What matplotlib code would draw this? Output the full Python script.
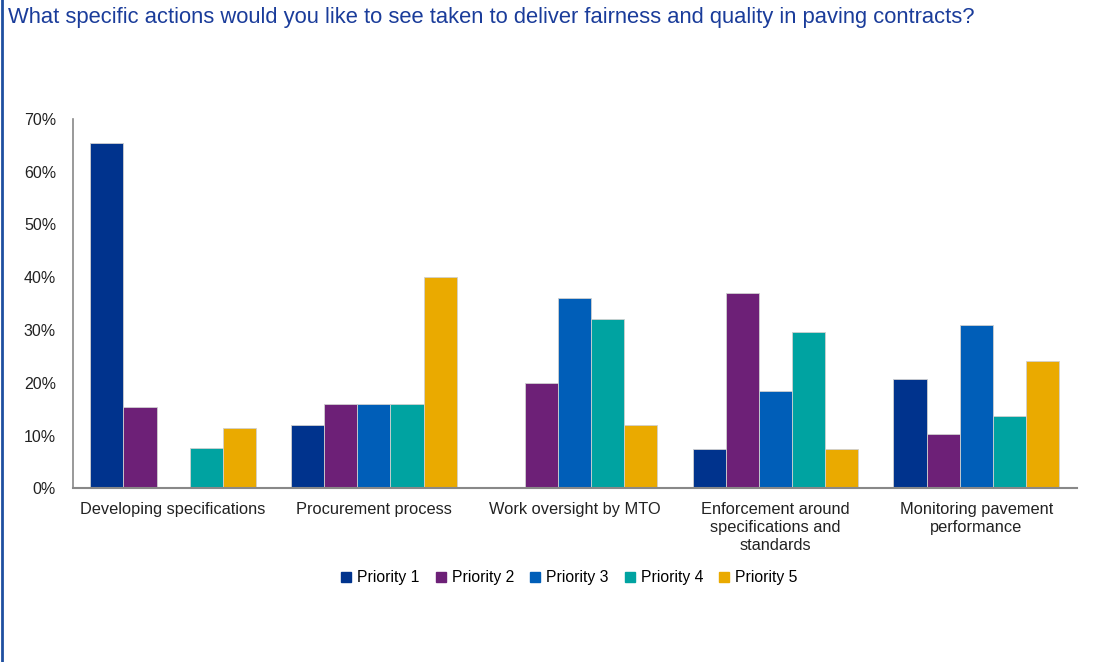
import matplotlib
matplotlib.use("Agg")
import matplotlib.pyplot as plt
import numpy as np
from matplotlib.lines import Line2D

categories = ["Developing specifications", "Procurement process", "Work oversight by MTO",
              "Enforcement around\nspecifications and\nstandards", "Monitoring pavement\nperformance"]
series_names = ["Priority 1", "Priority 2", "Priority 3", "Priority 4", "Priority 5"]
priority1 = [65.4, 12.0, 0.0, 7.4, 20.7]
priority2 = [15.4, 16.0, 20.0, 37.0, 10.3]
priority3 = [0.0, 16.0, 36.0, 18.5, 31.0]
priority4 = [7.7, 16.0, 32.0, 29.6, 13.8]
priority5 = [11.5, 40.0, 12.0, 7.4, 24.1]
yticks = [0, 10, 20, 30, 40, 50, 60, 70]
ytick_labels = ["0%", "10%", "20%", "30%", "40%", "50%", "60%", "70%"]
colors = ["#00338D", "#6D2077", "#005EB8", "#00A3A1", "#EAAA00"]

plt.rcParams['font.family'] = ['Liberation Sans', 'DejaVu Sans']

fig = plt.figure(figsize=(11.08, 6.62), dpi=100)
ax = fig.add_axes([0.0656, 0.2621, 0.9061, 0.5586])

x = np.arange(len(categories))
w = 0.165
data = [priority1, priority2, priority3, priority4, priority5]
for i, (vals, name, c) in enumerate(zip(data, series_names, colors)):
    ax.bar(x + (i - 2) * w, vals, width=w, color=c, label=name,
           edgecolor="#D0D0D0", linewidth=0.6, zorder=2)

ax.set_xlim(-0.5, len(categories) - 0.5)
ax.set_ylim(0, 70)
ax.set_yticks(yticks)
ax.set_yticklabels(ytick_labels, fontsize=11.5, color="#222222")
ax.set_xticks(x)
ax.set_xticklabels(categories, fontsize=11.8, color="#222222", linespacing=1.22, va="top")
ax.tick_params(axis="both", length=0)
ax.tick_params(axis="x", pad=10)
ax.tick_params(axis="y", pad=12)
for s in ["top", "right"]:
    ax.spines[s].set_visible(False)
ax.spines["left"].set_color("#888888")
ax.spines["bottom"].set_color("#888888")
ax.spines["left"].set_linewidth(1.2)
ax.spines["bottom"].set_linewidth(1.5)

handles = [Line2D([0], [0], marker="s", linestyle="", markersize=6.5, markerfacecolor=c,
                  markeredgecolor=c) for c in colors]
fig.legend(handles, series_names, loc="center", bbox_to_anchor=(0.514, 0.127), ncol=5,
           frameon=False, fontsize=11.3, handlelength=0.6, handletextpad=0.4,
           columnspacing=1.05)

fig.text(0.007, 0.974, "What specific actions would you like to see taken to deliver fairness and quality in paving contracts?",
         fontsize=15.8, color="#1A3C9A", ha="left", va="center")

fig.add_artist(Line2D([0.0015, 0.0015], [0, 1], transform=fig.transFigure, color="#1F4FA0", linewidth=2))

fig.savefig("out.png", dpi=100)
